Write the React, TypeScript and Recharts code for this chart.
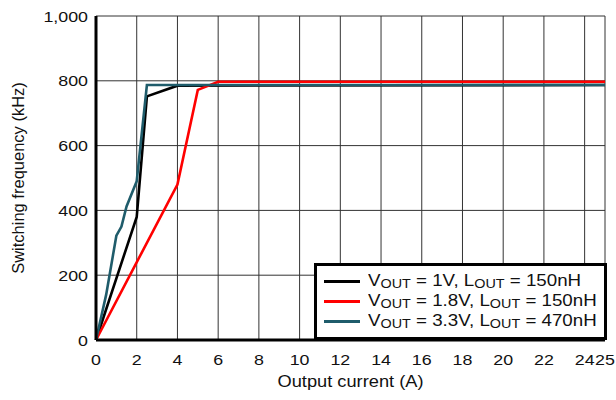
import React from 'react';
import { LineChart, Line, XAxis, YAxis, CartesianGrid, Legend } from 'recharts';

// Axis ticks
const currentTicks = [0, 2, 4, 6, 8, 10, 12, 14, 16, 18, 20, 22, 24, 25];
const freqTicks = [0, 200, 400, 600, 800, 1000];

// VOUT = 1V, LOUT = 150nH
const v1Current = [0, 2, 2.5, 4, 25];
const v1Freq = [0, 380, 752, 785, 787];

// VOUT = 1.8V, LOUT = 150nH
const v18Current = [0, 4, 5, 6, 25];
const v18Freq = [0, 480, 772, 797, 797];

// VOUT = 3.3V, LOUT = 470nH
const v33Current = [0, 0.5, 1, 1.25, 1.5, 2, 2.5, 25];
const v33Freq = [0, 140, 322, 350, 412, 490, 787, 787];

const voutLabels = ['1V', '1.8V', '3.3V'];
const loutLabels = ['150nH', '150nH', '470nH'];
const seriesColors = ['#000000', '#ff0000', '#1f5c6b'];

const toPoints = (xs: number[], ys: number[]) => xs.map((x, i) => ({ current: x, freq: ys[i] }));

const seriesList = [
  { id: 'v1', data: toPoints(v1Current, v1Freq) },
  { id: 'v18', data: toPoints(v18Current, v18Freq) },
  { id: 'v33', data: toPoints(v33Current, v33Freq) },
];

const seriesName = (i: number) => `VOUT = ${voutLabels[i]}, LOUT = ${loutLabels[i]}`;

const FONT = "'Liberation Sans', Arial, sans-serif";
const STRETCH = 1.15;

const XTick = (props: any) => {
  const { x, y, payload } = props;
  return (
    <g transform={`translate(${x},${y})`}>
      <text
        x={0}
        y={25}
        transform={`scale(${STRETCH},1)`}
        textAnchor="middle"
        fontFamily={FONT}
        fontSize={15.5}
        fill="#111"
      >
        {payload.value}
      </text>
    </g>
  );
};

const YTick = (props: any) => {
  const { x, y, payload } = props;
  return (
    <g transform={`translate(${x - 8},${y})`}>
      <text
        x={0}
        y={5.5}
        transform={`scale(${STRETCH},1)`}
        textAnchor="end"
        fontFamily={FONT}
        fontSize={15.5}
        fill="#111"
      >
        {payload.value.toLocaleString('en-US')}
      </text>
    </g>
  );
};

const XAxisTitle = (props: any) => {
  const vb = props.viewBox || {};
  const cx = (vb.x || 0) + (vb.width || 0) / 2;
  const y = (vb.y || 0) + 47;
  return (
    <g transform={`translate(${cx},${y})`}>
      <text
        x={0}
        y={0}
        transform="scale(1.12,1)"
        textAnchor="middle"
        fontFamily={FONT}
        fontSize={16.3}
        fill="#111"
      >
        Output current (A)
      </text>
    </g>
  );
};

const Sub = ({ children }: { children: React.ReactNode }) => (
  <span style={{ fontSize: 12.5, position: 'relative', top: 2.3 }}>{children}</span>
);

const renderLegend = (props: any) => {
  const payload = [...(props.payload || [])].sort(
    (a: any, b: any) =>
      seriesList.findIndex((_, i) => seriesName(i) === a.value) -
      seriesList.findIndex((_, i) => seriesName(i) === b.value)
  );
  return (
    <div
      style={{
        boxSizing: 'border-box',
        width: 293,
        height: 77,
        border: '3px solid #000',
        background: '#fff',
        paddingTop: 5,
        paddingLeft: 7,
        fontFamily: FONT,
        fontSize: 16.3,
        color: '#111',
      }}
    >
      {payload.map((entry: any) => {
        const i = seriesList.findIndex((_, k) => seriesName(k) === entry.value);
        return (
          <div key={entry.value} style={{ display: 'flex', alignItems: 'center', height: 20 }}>
            <div style={{ width: 36, height: 3, background: entry.color, flexShrink: 0 }} />
            <div
              style={{
                marginLeft: 8,
                whiteSpace: 'nowrap',
                transform: `scaleX(${STRETCH})`,
                transformOrigin: 'left center',
                lineHeight: '20px',
              }}
            >
              V<Sub>OUT</Sub> = {voutLabels[i]}, L<Sub>OUT</Sub> = {loutLabels[i]}
            </div>
          </div>
        );
      })}
    </div>
  );
};

export default function App() {
  return (
    <div style={{ position: 'absolute', left: 0, top: 0, width: 616, height: 400, background: '#fff', fontFamily: FONT }}>
      <LineChart width={616} height={400} margin={{ top: 16, right: 11, bottom: 30, left: 46 }}>
        <CartesianGrid stroke="#333" strokeWidth={1} />
        <XAxis
          dataKey="current"
          type="number"
          domain={[0, 25]}
          ticks={currentTicks}
          interval={0}
          tick={<XTick />}
          tickLine={false}
          tickSize={0}
          tickMargin={0}
          axisLine={{ stroke: '#000', strokeWidth: 3 }}
          height={30}
          allowDuplicatedCategory={false}
          label={<XAxisTitle />}
        />
        <XAxis
          xAxisId="top"
          orientation="top"
          type="number"
          domain={[0, 25]}
          tick={false}
          tickLine={false}
          axisLine={{ stroke: '#000', strokeWidth: 3 }}
          height={0}
        />
        <YAxis
          type="number"
          domain={[0, 1000]}
          ticks={freqTicks}
          interval={0}
          tick={<YTick />}
          tickLine={false}
          tickSize={0}
          tickMargin={0}
          axisLine={{ stroke: '#000', strokeWidth: 3 }}
          width={50}
          label={{
            value: 'Switching frequency (kHz)',
            angle: -90,
            position: 'center',
            dx: -53,
            fontFamily: FONT,
            fontSize: 16.5,
            fill: '#111',
          }}
        />
        <YAxis
          yAxisId="right"
          orientation="right"
          type="number"
          domain={[0, 1000]}
          tick={false}
          tickLine={false}
          axisLine={{ stroke: '#000', strokeWidth: 3 }}
          width={0}
        />
        {seriesList.map((s, i) => (
          <Line
            key={s.id}
            data={s.data}
            dataKey="freq"
            name={seriesName(i)}
            type="linear"
            stroke={seriesColors[i]}
            strokeWidth={2.6}
            dot={false}
            activeDot={false}
            isAnimationActive={false}
          />
        ))}
        <Legend
          layout="vertical"
          align="center"
          verticalAlign="middle"
          content={renderLegend}
          wrapperStyle={{ position: 'absolute', left: 314, top: 263, width: 293, height: 77 }}
        />
      </LineChart>
    </div>
  );
}
